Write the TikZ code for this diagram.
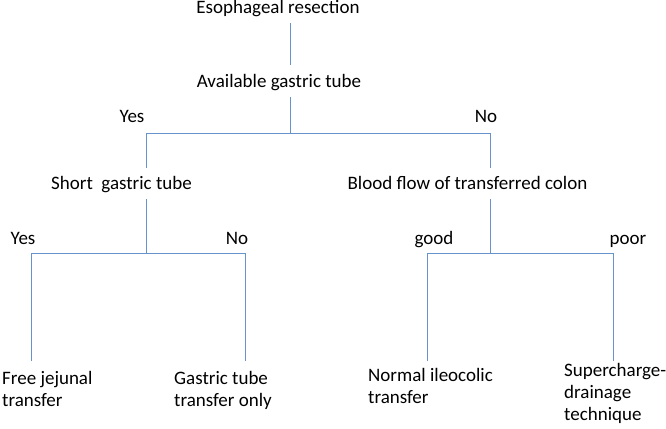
\documentclass[tikz,border=0pt]{standalone}
\usepackage{fontspec}
\setmainfont{Carlito}
\definecolor{linecol}{RGB}{104,146,204}
\begin{document}
\begin{tikzpicture}[x=1pt,y=-1pt,
  lbl/.style={font=\fontsize{19}{22}\selectfont, inner xsep=0pt, inner ysep=5.5pt, text height=12.5pt, text depth=4pt},
  leaf/.style={font=\fontsize{19}{22}\selectfont, inner sep=0pt, align=left, anchor=north west},
  conn/.style={draw=linecol, line width=1pt}
]
\useasboundingbox (0,0) rectangle (666,428);
% text nodes
\node[lbl] (esoph) at (278,9) {Esophageal resection};
\node[lbl] (avail) at (279,83) {Available gastric tube};
\node[lbl] (yes1) at (132,118) {Yes};
\node[lbl] (no1) at (486,118) {No};
\node[lbl] (short) at (121.5,185) {Short~~gastric tube};
\node[lbl] (blood) at (467.5,185) {Blood flow of transferred colon};
\node[lbl] (yes2) at (23,240) {Yes};
\node[lbl] (no2) at (237,240) {No};
\node[lbl] (good) at (434,240) {good};
\node[lbl] (poor) at (628,240) {poor};
\node[leaf] (free) at (2,371) {Free jejunal\\transfer};
\node[leaf] (gastric) at (174,371) {Gastric tube\\transfer only};
\node[leaf] (normal) at (368,368) {Normal ileocolic\\transfer};
\node[leaf] (super) at (564,363) {Supercharge-\\drainage\\technique};
% junctions
\coordinate (b1) at (290,133);
\coordinate (b1l) at (146,133);
\coordinate (b1r) at (490,133);
\coordinate (b2lc) at (146,253);
\coordinate (b2ll) at (31,253);
\coordinate (b2lr) at (245,253);
\coordinate (b2rc) at (490,253);
\coordinate (b2rl) at (427,253);
\coordinate (b2rr) at (613,253);
% connectors
\draw[conn, shorten >=4pt] (esoph.south -| b1) -- (avail.north -| b1);
\draw[conn] (avail.south -| b1) -- (b1);
\draw[conn, shorten <=3pt, shorten >=3pt] (short.north -| b1l) -- (b1l) -- (b1r) -- (blood.north -| b1r);
\draw[conn] (short.south -| b2lc) -- (b2lc);
\draw[conn] (blood.south -| b2rc) -- (b2rc);
\draw[conn, shorten <=10pt, shorten >=10pt] (free.north -| b2ll) -- (b2ll) -- (b2lr) -- (gastric.north -| b2lr);
\draw[conn, shorten <=7pt, shorten >=2pt] (normal.north -| b2rl) -- (b2rl) -- (b2rr) -- (super.north -| b2rr);
\end{tikzpicture}
\end{document}
